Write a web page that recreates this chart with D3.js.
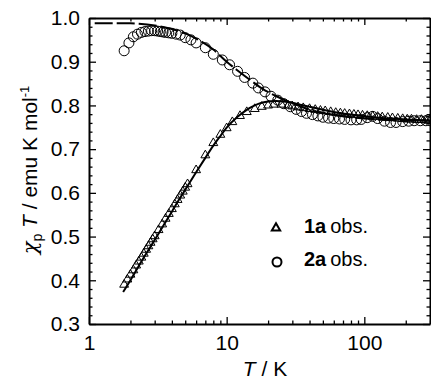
<!DOCTYPE html>
<html>
<head>
<meta charset="utf-8">
<script src="https://cdn.jsdelivr.net/npm/d3@7"></script>
<style>
  body { margin: 0; background: #fff; }
  svg { display: block; font-family: "Liberation Sans", Arial, sans-serif; }
  .axis path, .axis line { stroke: #000; }
  .axis text { font-size: 21px; fill: #000; font-family: "Liberation Sans", Arial, sans-serif; }
</style>
</head>
<body>
<svg id="chart" width="431" height="379"></svg>
<script>
// 1a observed (triangles)
const obs1aT = [1.8, 1.9, 2.0, 2.1, 2.2, 2.3, 2.4, 2.5, 2.6, 2.7, 2.8, 2.9, 3.0, 3.2, 3.4, 3.6, 3.8, 4.0, 4.2, 4.4, 4.6, 4.8, 5.0, 5.2,
  6, 7, 8, 9, 10, 11, 12.5, 14, 16, 18, 20, 22, 25, 28,
  30, 33, 36, 40, 44, 48, 52, 57, 62, 67, 72, 78, 84, 90, 97, 105, 115, 125, 135, 148, 160, 175, 190, 205, 220, 240, 260, 280, 300];
const obs1aV = [0.390, 0.402, 0.413, 0.423, 0.434, 0.443, 0.452, 0.461, 0.470, 0.478, 0.486, 0.494, 0.501, 0.515, 0.528, 0.541, 0.552, 0.563, 0.574, 0.584, 0.594, 0.603, 0.612, 0.620,
  0.652, 0.686, 0.714, 0.733, 0.748, 0.762, 0.776, 0.785, 0.792, 0.797, 0.800, 0.802, 0.802, 0.800,
  0.798, 0.796, 0.794, 0.792, 0.790, 0.788, 0.787, 0.785, 0.783, 0.782, 0.781, 0.780, 0.779, 0.778, 0.777, 0.776, 0.775, 0.774, 0.773, 0.772, 0.771, 0.770, 0.769, 0.768, 0.768, 0.767, 0.767, 0.766, 0.766];

// 2a observed (circles)
const obs2aT = [1.8, 1.95, 2.1, 2.25, 2.4, 2.55, 2.7, 2.85, 3.0, 3.15, 3.3, 3.45, 3.6, 3.8, 4.0, 4.3, 4.6, 5.0, 5.5, 6.0, 7.0, 8.0, 9.3, 10.5, 12, 13.5, 15.5, 17, 19, 21, 23.5, 26, 29,
  32, 35, 38, 42, 46, 50, 55, 60, 66, 72, 80, 88, 95, 105, 115, 125, 140, 155, 170, 190, 210, 230, 255, 280, 300];
const obs2aV = [0.925, 0.943, 0.957, 0.963, 0.967, 0.969, 0.970, 0.971, 0.971, 0.970, 0.969, 0.968, 0.967, 0.966, 0.965, 0.963, 0.961, 0.955, 0.950, 0.943, 0.932, 0.917, 0.904, 0.893, 0.878, 0.864, 0.851, 0.840, 0.831, 0.821, 0.812, 0.804, 0.797,
  0.791, 0.786, 0.782, 0.779, 0.776, 0.773, 0.771, 0.770, 0.769, 0.768, 0.767, 0.767, 0.768, 0.772, 0.775, 0.770, 0.764, 0.761, 0.761, 0.763, 0.764, 0.765, 0.765, 0.765, 0.765];

// fit curves
const fit1aT = [1.77, 2.0, 2.5, 3.0, 3.5, 4.0, 4.5, 5.0, 6.0, 7.0, 8.0, 9.0, 10, 12, 14, 16, 18, 20, 23, 26, 30, 35, 40, 50, 60, 80, 100, 150, 200, 300];
const fit1aV = [0.373, 0.400, 0.452, 0.492, 0.527, 0.557, 0.584, 0.607, 0.647, 0.680, 0.708, 0.730, 0.749, 0.774, 0.790, 0.800, 0.806, 0.809, 0.810, 0.809, 0.806, 0.801, 0.797, 0.790, 0.785, 0.779, 0.775, 0.770, 0.768, 0.765];
const fit2aT = [1.1, 1.5, 2.0, 2.3, 3.0, 4.0, 5.0, 6.0, 8.0, 10, 12, 15, 18, 23, 30, 40, 60, 100, 200, 300];
const fit2aV = [0.988, 0.988, 0.988, 0.987, 0.983, 0.975, 0.965, 0.953, 0.928, 0.900, 0.880, 0.857, 0.839, 0.821, 0.805, 0.790, 0.778, 0.770, 0.766, 0.765];

const xMajor = [1, 10, 100];
const xMinor = [2, 3, 4, 5, 6, 7, 8, 9, 20, 30, 40, 50, 60, 70, 80, 90, 200, 300];
const yMajor = [0.3, 0.4, 0.5, 0.6, 0.7, 0.8, 0.9, 1.0];
const yMinor = [0.32, 0.34, 0.36, 0.38, 0.42, 0.44, 0.46, 0.48, 0.52, 0.54, 0.56, 0.58, 0.62, 0.64, 0.66, 0.68,
  0.72, 0.74, 0.76, 0.78, 0.82, 0.84, 0.86, 0.88, 0.92, 0.94, 0.96, 0.98];

const plotLeft = 89, plotRight = 430, plotTop = 18, plotBottom = 324;

const x = d3.scaleLog().domain([1, 300]).range([plotLeft, plotRight]);
const y = d3.scaleLinear().domain([0.3, 1.0]).range([plotBottom, plotTop]);

const svg = d3.select('#chart');

function addAxis(axis, tx, ty, major) {
  const g = svg.append('g')
    .attr('class', 'axis')
    .attr('transform', 'translate(' + tx + ',' + ty + ')')
    .call(axis);
  g.selectAll('path').attr('stroke-width', major ? 2 : 0);
  g.selectAll('line').attr('stroke-width', 1.3);
  return g;
}

// minor ticks
addAxis(d3.axisBottom(x).tickValues(xMinor).tickSize(-3.5).tickSizeOuter(0).tickFormat(''), 0, plotBottom, false);
addAxis(d3.axisTop(x).tickValues(xMinor).tickSize(-3.5).tickSizeOuter(0).tickFormat(''), 0, plotTop, false);
addAxis(d3.axisLeft(y).tickValues(yMinor).tickSize(-3.5).tickSizeOuter(0).tickFormat(''), plotLeft, 0, false);
addAxis(d3.axisRight(y).tickValues(yMinor).tickSize(-3.5).tickSizeOuter(0).tickFormat(''), plotRight, 0, false);

// major ticks + frame
addAxis(d3.axisBottom(x).tickValues(xMajor).tickSize(-7).tickSizeOuter(0).tickPadding(11).tickFormat(d3.format('d')), 0, plotBottom, true);
addAxis(d3.axisTop(x).tickValues(xMajor).tickSize(-7).tickSizeOuter(0).tickFormat(''), 0, plotTop, true);
addAxis(d3.axisLeft(y).tickValues(yMajor).tickSize(-7).tickSizeOuter(0).tickPadding(9).tickFormat(d3.format('.1f')), plotLeft, 0, true);
addAxis(d3.axisRight(y).tickValues(yMajor).tickSize(-7).tickSizeOuter(0).tickFormat(''), plotRight, 0, true);

// fit lines
const line = d3.line()
  .curve(d3.curveMonotoneX)
  .x(d => x(d[0]))
  .y(d => y(d[1]));

svg.append('path')
  .datum(d3.zip(fit2aT, fit2aV))
  .attr('d', line)
  .attr('fill', 'none')
  .attr('stroke', '#000')
  .attr('stroke-width', 2)
  .attr('stroke-dasharray', '18,4');

svg.append('path')
  .datum(d3.zip(fit1aT, fit1aV))
  .attr('d', line)
  .attr('fill', 'none')
  .attr('stroke', '#000')
  .attr('stroke-width', 2);

// markers
const tri = d3.symbol().type(d3.symbolTriangle).size(34);

svg.append('g')
  .selectAll('path')
  .data(d3.zip(obs1aT, obs1aV))
  .join('path')
  .attr('d', tri)
  .attr('transform', d => 'translate(' + x(d[0]) + ',' + y(d[1]) + ')')
  .attr('fill', 'none')
  .attr('stroke', '#000')
  .attr('stroke-width', 1);

svg.append('g')
  .selectAll('circle')
  .data(d3.zip(obs2aT, obs2aV))
  .join('circle')
  .attr('cx', d => x(d[0]))
  .attr('cy', d => y(d[1]))
  .attr('r', 5)
  .attr('fill', 'none')
  .attr('stroke', '#000')
  .attr('stroke-width', 1);

// legend
const legend = svg.append('g');
legend.append('path')
  .attr('d', d3.symbol().type(d3.symbolTriangle).size(30))
  .attr('transform', 'translate(276,228)')
  .attr('fill', 'none')
  .attr('stroke', '#000')
  .attr('stroke-width', 2);
legend.append('circle')
  .attr('cx', 277).attr('cy', 262).attr('r', 4.5)
  .attr('fill', 'none')
  .attr('stroke', '#000')
  .attr('stroke-width', 2);

const labels = [['1a', 233], ['2a', 266]];
labels.forEach(([name, by]) => {
  const t = legend.append('text')
    .attr('x', 304)
    .attr('y', by)
    .attr('font-size', 20);
  t.append('tspan').attr('font-weight', 'bold').text(name);
  t.append('tspan').attr('dx', 4).text('obs.');
});

// axis titles
const xt = svg.append('text')
  .attr('x', 265)
  .attr('y', 376)
  .attr('text-anchor', 'middle')
  .attr('font-size', 21);
xt.append('tspan').attr('font-style', 'italic').text('T');
xt.append('tspan').text(' / K');

const yt = svg.append('text')
  .attr('transform', 'translate(37,170) rotate(-90)')
  .attr('text-anchor', 'middle')
  .attr('font-size', 21);
yt.append('tspan').attr('font-style', 'italic').attr('font-family', '"DejaVu Serif", serif').text('χ');
yt.append('tspan').attr('font-size', 14).attr('dy', 5).text('p');
yt.append('tspan').attr('font-style', 'italic').attr('dy', -5).text(' T');
yt.append('tspan').text(' / emu K mol');
yt.append('tspan').attr('font-size', 13).attr('dy', -8).text('-1');
</script>
</body>
</html>
